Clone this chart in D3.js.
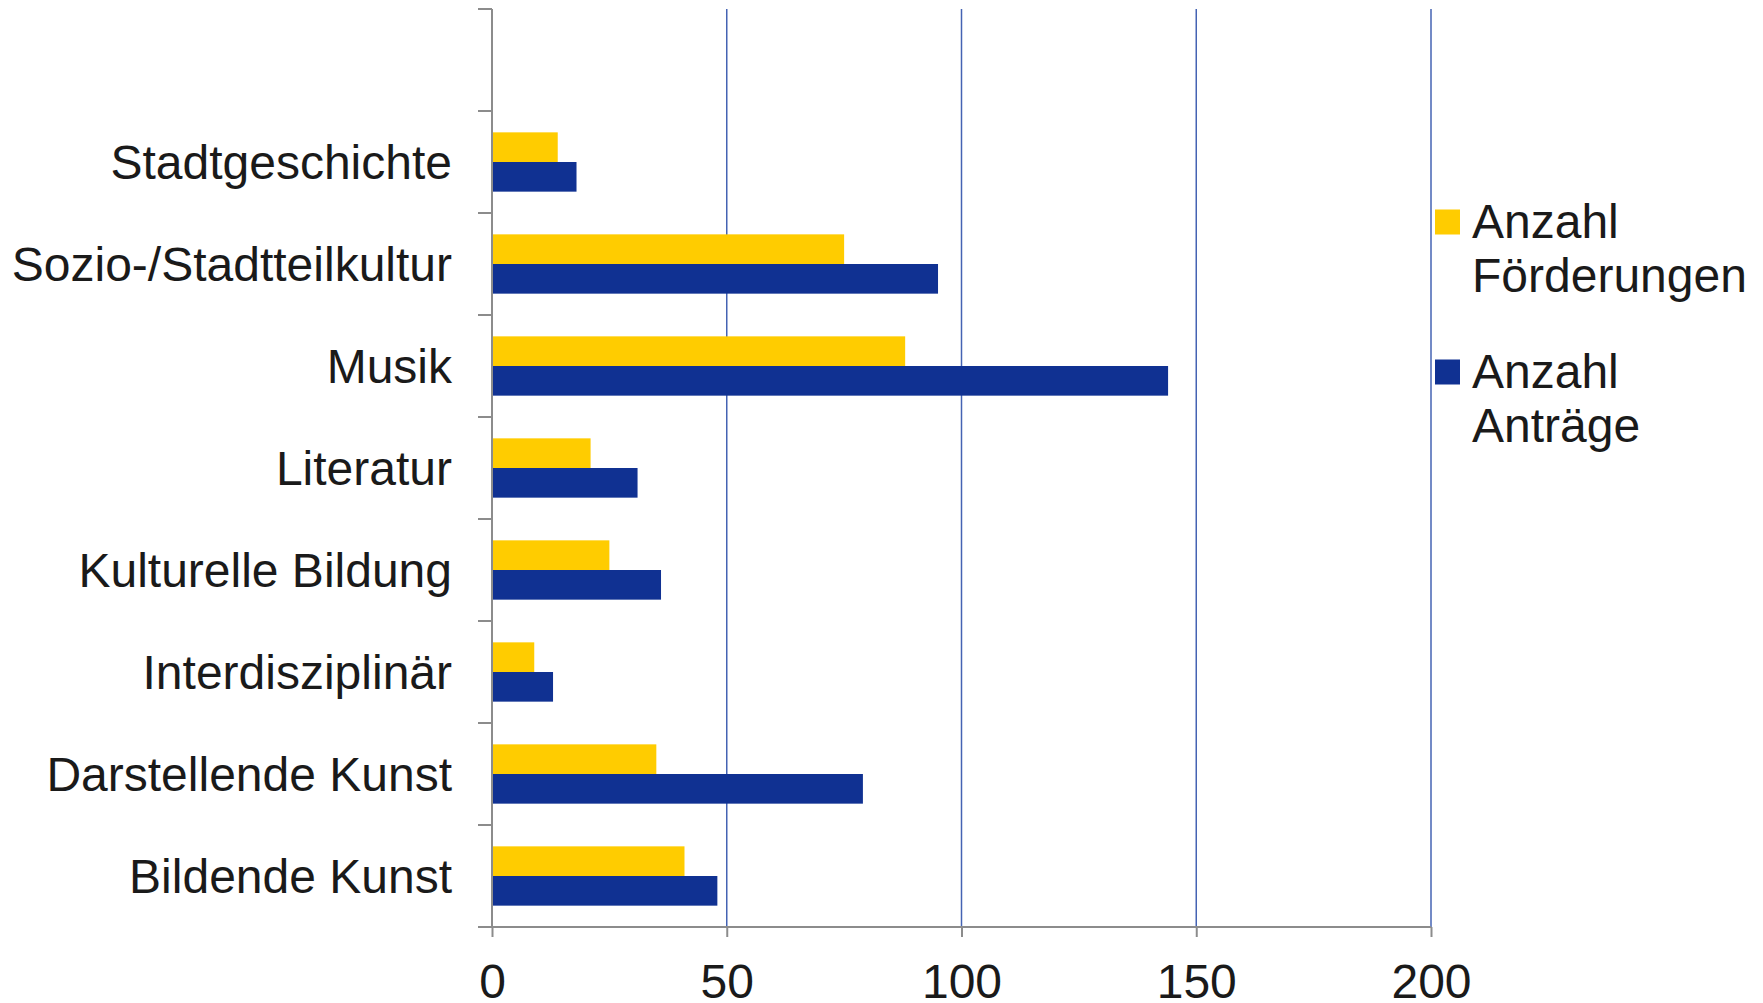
<!DOCTYPE html>
<html lang="de">
<head>
<meta charset="UTF-8">
<title>Anträge und Förderungen</title>
<style>
body { margin: 0; background: #fff; }
svg text { font-family: "Liberation Sans", Arial, sans-serif; fill: #1a1a1a; }
.grid line { stroke: #4463b3; stroke-width: 1.5px; }
.axis path, .axis line { stroke: #8c8c8c; stroke-width: 2px; }
</style>
</head>
<body>
<script src="https://cdnjs.cloudflare.com/ajax/libs/d3/7.8.5/d3.min.js"></script>
<script>

// categories top to bottom; the first band of the chart stays empty
let categories = ["", "Stadtgeschichte", "Sozio-/Stadtteilkultur", "Musik", "Literatur",
  "Kulturelle Bildung", "Interdisziplinär", "Darstellende Kunst", "Bildende Kunst"];
let foerderungen = [null, 14, 75, 88, 21, 25, 9, 35, 41];
let antraege = [null, 18, 95, 144, 31, 36, 13, 79, 48];
let seriesNames = [["Anzahl", "Förderungen"], ["Anzahl", "Anträge"]];
let seriesColors = ["#ffcc00", "#103192"];
let xTicks = [0, 50, 100, 150, 200];

let width = 1763, height = 1003;
let margin = { top: 9, left: 492, right: 332, bottom: 76 };

let svg = d3.select("body").append("svg")
  .attr("width", width)
  .attr("height", height);

let x = d3.scaleLinear()
  .domain([0, 200])
  .range([margin.left, width - margin.right]);

let y = d3.scaleBand()
  .domain(categories)
  .range([margin.top, height - margin.bottom]);

let sub = d3.scaleBand()
  .domain([0, 1])
  .range([0, y.bandwidth()])
  .paddingOuter(0.72);

// vertical grid lines
svg.append("g").attr("class", "grid")
  .selectAll("line")
  .data(xTicks.slice(1))
  .join("line")
  .attr("x1", d => x(d)).attr("x2", d => x(d))
  .attr("y1", y.range()[0]).attr("y2", y.range()[1]);

// bars
let rows = categories.map((c, i) => ({ c: c, v: [foerderungen[i], antraege[i]] }))
  .filter(r => r.c !== "");

let groups = svg.append("g")
  .selectAll("g")
  .data(rows)
  .join("g")
  .attr("transform", d => "translate(0," + y(d.c) + ")");

groups.selectAll("rect")
  .data(d => d.v)
  .join("rect")
  .attr("x", x(0))
  .attr("y", (d, i) => sub(i))
  .attr("width", d => x(d) - x(0))
  .attr("height", sub.bandwidth())
  .attr("fill", (d, i) => seriesColors[i]);

// x axis
let xAxis = svg.append("g").attr("class", "axis")
  .attr("transform", "translate(0," + y.range()[1] + ")")
  .call(d3.axisBottom(x).tickValues(xTicks).tickSize(10).tickSizeOuter(0).tickPadding(27));
xAxis.select(".domain").attr("d", "M" + (x(0) - 14) + ",0H" + x(200));
xAxis.selectAll("text").style("font-size", "48px").attr("fill", "#1a1a1a");

// y axis: ticks at band boundaries
let bounds = categories.map(c => y(c)).concat([y.range()[1]]);
let yAxis = svg.append("g").attr("class", "axis");
yAxis.append("line")
  .attr("x1", x(0)).attr("x2", x(0))
  .attr("y1", y.range()[0]).attr("y2", y.range()[1]);
yAxis.selectAll("line.tick")
  .data(bounds)
  .join("line")
  .attr("class", "tick")
  .attr("x1", x(0) - 14).attr("x2", x(0))
  .attr("y1", d => d).attr("y2", d => d);

svg.append("g")
  .selectAll("text")
  .data(rows)
  .join("text")
  .attr("x", x(0) - 40)
  .attr("y", d => y(d.c) + y.bandwidth() / 2)
  .attr("dy", "0.35em")
  .attr("text-anchor", "end")
  .style("font-size", "48px")
  .text(d => d.c);

// legend
let legend = svg.append("g")
  .attr("transform", "translate(" + (x(200) + 4) + ",222)");

let items = legend.selectAll("g")
  .data(seriesNames)
  .join("g")
  .attr("transform", (d, i) => "translate(0," + i * 150 + ")");

items.append("rect")
  .attr("x", 0).attr("y", -12.5)
  .attr("width", 25).attr("height", 25)
  .attr("fill", (d, i) => seriesColors[i]);

items.append("text")
  .attr("x", 37)
  .attr("y", 16)
  .style("font-size", "48px")
  .selectAll("tspan")
  .data(d => d)
  .join("tspan")
  .attr("x", 37)
  .attr("dy", (d, i) => i ? 54 : 0)
  .text(d => d);

</script>
</body>
</html>
